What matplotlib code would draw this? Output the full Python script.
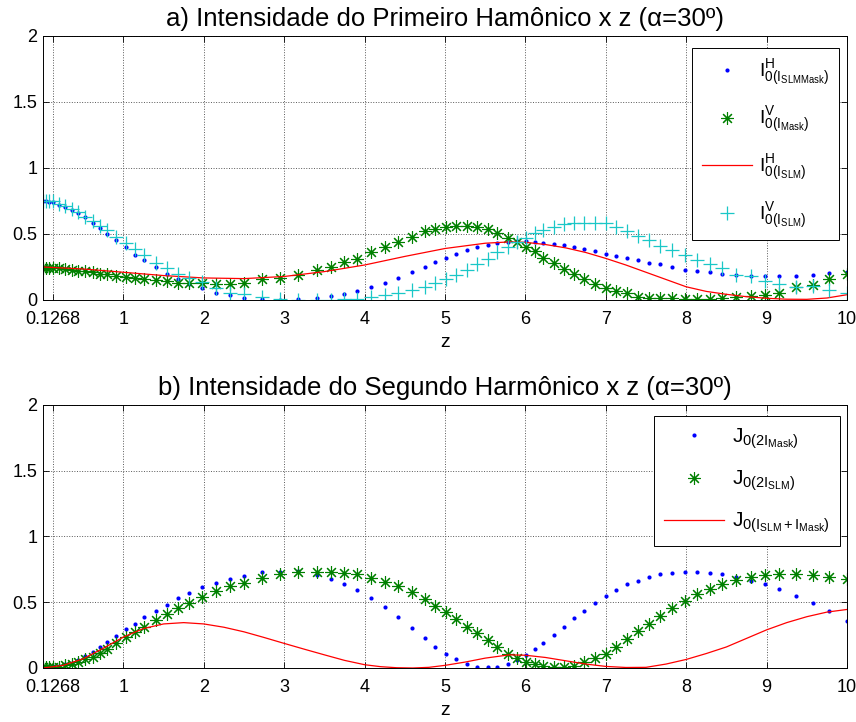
import numpy as np
import matplotlib
matplotlib.use("Agg")
import matplotlib.pyplot as plt

plt.rcParams['font.family'] = ['Liberation Sans', 'DejaVu Sans']
plt.rcParams['mathtext.fontset'] = 'custom'
plt.rcParams['mathtext.rm'] = 'Liberation Sans'
plt.rcParams['mathtext.it'] = 'Liberation Sans'

# sample positions along z (shared by every marker series)
z = [0.00, 0.04, 0.08, 0.12, 0.20, 0.27, 0.36, 0.44, 0.52, 0.62, 0.71, 0.80, 0.91,
     1.03, 1.14, 1.26, 1.40, 1.54, 1.68, 1.82, 1.98,
     2.15, 2.33, 2.50, 2.72, 2.95,
     3.17, 3.41, 3.58, 3.75, 3.91,
     4.08, 4.25, 4.42, 4.59, 4.75, 4.88,
     5.01, 5.14, 5.27, 5.40, 5.53, 5.65, 5.78, 5.89,
     6.01, 6.12, 6.22, 6.36, 6.48, 6.61, 6.73, 6.86,
     7.00, 7.13, 7.26, 7.40, 7.54, 7.68, 7.82, 7.98,
     8.13, 8.29, 8.44, 8.62, 8.80, 8.98,
     9.16, 9.37, 9.58, 9.78, 10.00]

# a) first harmonic
i0h_slmmask = [.75, .75, .745, .74, .722, .705, .685, .66, .63, .585, .545, .50, .455,
               .40, .34, .30, .25, .20, .16, .12, .09,
               .055, .035, .017, .005, .0,
               .005, .017, .03, .043, .07,
               .096, .126, .17, .21, .25, .285,
               .32, .35, .375, .40, .415, .43, .44, .447,
               .447, .44, .43, .425, .415, .40, .385, .37,
               .35, .333, .315, .30, .28, .27, .25, .23,
               .22, .21, .195, .19, .18, .18,
               .18, .18, .19, .205, .21]
i0v_mask = [.245, .245, .245, .245, .24, .235, .227, .22, .218, .21, .20, .195, .185,
            .177, .17, .16, .15, .144, .13, .126, .126,
            .12, .12, .13, .157, .165,
            .19, .227, .25, .29, .31,
            .36, .40, .44, .475, .52, .535,
            .555, .563, .563, .555, .535, .505, .47, .44,
            .40, .37, .32, .28, .235, .195, .157, .12,
            .088, .068, .05, .025, .017, .013, .013, .008,
            .008, .008, .013, .02, .03, .038,
            .055, .096, .114, .157, .20]
i0v_slm = [.75, .75, .75, .75, .73, .71, .69, .665, .625, .60, .56, .53, .475,
           .43, .385, .34, .28, .245, .195, .165, .136,
           .093, .05, .043, .02, .005,
           0, 0, 0, .005, .01,
           .025, .038, .05, .076, .10, .126,
           .16, .19, .23, .27, .31, .36, .40, .44,
           .47, .505, .53, .55, .575, .585, .585, .585,
           .58, .55, .52, .485, .455, .41, .38, .34,
           .30, .27, .24, .19, .18, .146,
           .12, .10, .105, .076, .05]
z_line_a = [0, 0.5, 1.0, 1.5, 2.0, 2.5, 3.0, 3.5, 4.0, 4.5, 5.0, 5.5, 5.8, 6.0, 6.25,
            6.5, 6.75, 7.0, 7.25, 7.5, 7.75, 8.0, 8.25, 8.5, 8.75, 9.0, 9.25, 9.5, 9.75, 10.0]
i0h_slm = [.25, .235, .21, .185, .167, .162, .178, .215, .265, .33, .39, .43, .44, .437, .42,
           .395, .36, .315, .265, .21, .155, .10, .065, .043, .025, .013, .006, .005, .015, .04]

# b) second harmonic
j0_2mask = [.01, .01, .01, .012, .015, .03, .04, .06, .09, .125, .157, .195, .245,
            .295, .335, .385, .436, .48, .53, .57, .615,
            .65, .68, .70, .73, .733,
            .735, .71, .68, .64, .595,
            .535, .46, .39, .305, .225, .157,
            .11, .066, .028, .01, .005, .01, .028, .06,
            .10, .145, .188, .25, .31, .38, .436, .497,
            .548, .594, .637, .665, .69, .715, .725, .733,
            .733, .725, .713, .69, .665, .637,
            .60, .548, .497, .43, .36]
j0_2slm = [.005, .005, .005, .005, .01, .02, .03, .043, .066, .086, .117, .142, .193,
           .233, .276, .314, .365, .408, .454, .497, .538,
           .586, .62, .65, .683, .715,
           .73, .733, .733, .725, .713,
           .687, .657, .62, .576, .523, .474,
           .424, .37, .314, .264, .213, .157, .107, .078,
           .048, .03, .015, .01, .007, .015, .043, .073,
           .11, .162, .218, .28, .335, .396, .454, .51,
           .56, .60, .64, .67, .69, .708,
           .715, .715, .708, .69, .675]
z_line_b = [0, 0.25, 0.5, 0.75, 1.0, 1.25, 1.5, 1.75, 2.0, 2.25, 2.5, 2.75, 3.0, 3.25,
            3.5, 3.75, 4.0, 4.2, 4.4, 4.6, 4.8, 5.0, 5.25, 5.5, 5.8, 6.0, 6.25, 6.5,
            6.75, 7.0, 7.25, 7.5, 7.75, 8.0, 8.25, 8.5, 8.75, 9.0, 9.25, 9.5, 9.75, 10.0]
j0_sum = [0.0, .02, .07, .15, .235, .30, .335, .345, .335, .31, .275, .232, .187, .143,
          .10, .058, .025, .01, .002, .0, .005, .02, .045, .075, .10, .097, .08, .055,
          .03, .012, .004, .005, .03, .065, .11, .16, .225, .29, .345, .39, .425, .445]

xticks = [0.1268, 1, 2, 3, 4, 5, 6, 7, 8, 9, 10]
xticklabels = ['0.1268', '1', '2', '3', '4', '5', '6', '7', '8', '9', '10']
yticks = [0, 0.5, 1, 1.5, 2]
yticklabels = ['0', '0.5', '1', '1.5', '2']

green = (0, 0.5, 0)
cyan = (0.1, 0.78, 0.78)
star = (8, 2, 0)


def style_axes(ax, title):
    ax.set_xlim(0, 10)
    ax.set_ylim(0, 2)
    ax.set_xticks(xticks)
    ax.set_xticklabels(xticklabels)
    ax.set_yticks(yticks)
    ax.set_yticklabels(yticklabels)
    ax.tick_params(direction='in', top=True, right=True, length=4, width=0.6,
                   labelsize=13, pad=4)
    ax.tick_params(axis='x', pad=8)
    ax.grid(True, linestyle=':', color='0.35', linewidth=0.7)
    for s in ax.spines.values():
        s.set_linewidth(0.7)
    ax.set_xlabel('z', fontsize=14, labelpad=4)
    ax.set_title(title, fontsize=18.5, pad=7)


def make_legend(ax, anchor, size, spacing, hlen):
    leg = ax.legend(loc='upper right', bbox_to_anchor=anchor, borderaxespad=0,
                    fontsize=size, fancybox=False, framealpha=1, edgecolor='k',
                    borderpad=0.5, labelspacing=spacing, handlelength=hlen,
                    handletextpad=0.35)
    leg.get_frame().set_linewidth(0.7)
    return leg


fig = plt.figure(figsize=(8.56, 7.22), dpi=100)

ax1 = fig.add_axes([0.0502, 0.5845, 0.9393, 0.3657])
ax1.plot(z, i0h_slmmask, 'o', color='b', ms=3, mew=0,
         label=r'$\mathregular{I^{H}_{0(I_{SLMMask})}}$')
ax1.plot(z, i0v_mask, linestyle='none', marker=star, color=green, ms=9, mew=0.8,
         label=r'$\mathregular{I^{V}_{0(I_{Mask})}}$')
ax1.plot(z_line_a, i0h_slm, '-', color='r', lw=0.9,
         label=r'$\mathregular{I^{H}_{0(I_{SLM})}}$')
ax1.plot(z, i0v_slm, '+', color=cyan, ms=10, mew=0.9,
         label=r'$\mathregular{I^{V}_{0(I_{SLM})}}$')
style_axes(ax1, u'a) Intensidade do Primeiro Hamônico x z (\u03b1=30º)')
make_legend(ax1, (0.990, 0.9545), 14, 0.9, 2.6)

ax2 = fig.add_axes([0.0502, 0.0748, 0.9393, 0.3643])
ax2.plot(z, j0_2mask, 'o', color='b', ms=3, mew=0,
         label=r'$\mathregular{J_{0(2I_{Mask})}}$')
ax2.plot(z, j0_2slm, linestyle='none', marker=star, color=green, ms=9, mew=0.8,
         label=r'$\mathregular{J_{0(2I_{SLM})}}$')
ax2.plot(z_line_b, j0_sum, '-', color='r', lw=0.9,
         label=r'$\mathregular{J_{0(I_{SLM} + I_{Mask})}}$')
style_axes(ax2, u'b) Intensidade do Segundo Harmônico x z (\u03b1=30º)')
make_legend(ax2, (0.991, 0.958), 15, 0.85, 2.9)

fig.savefig('out.png', dpi=100)
